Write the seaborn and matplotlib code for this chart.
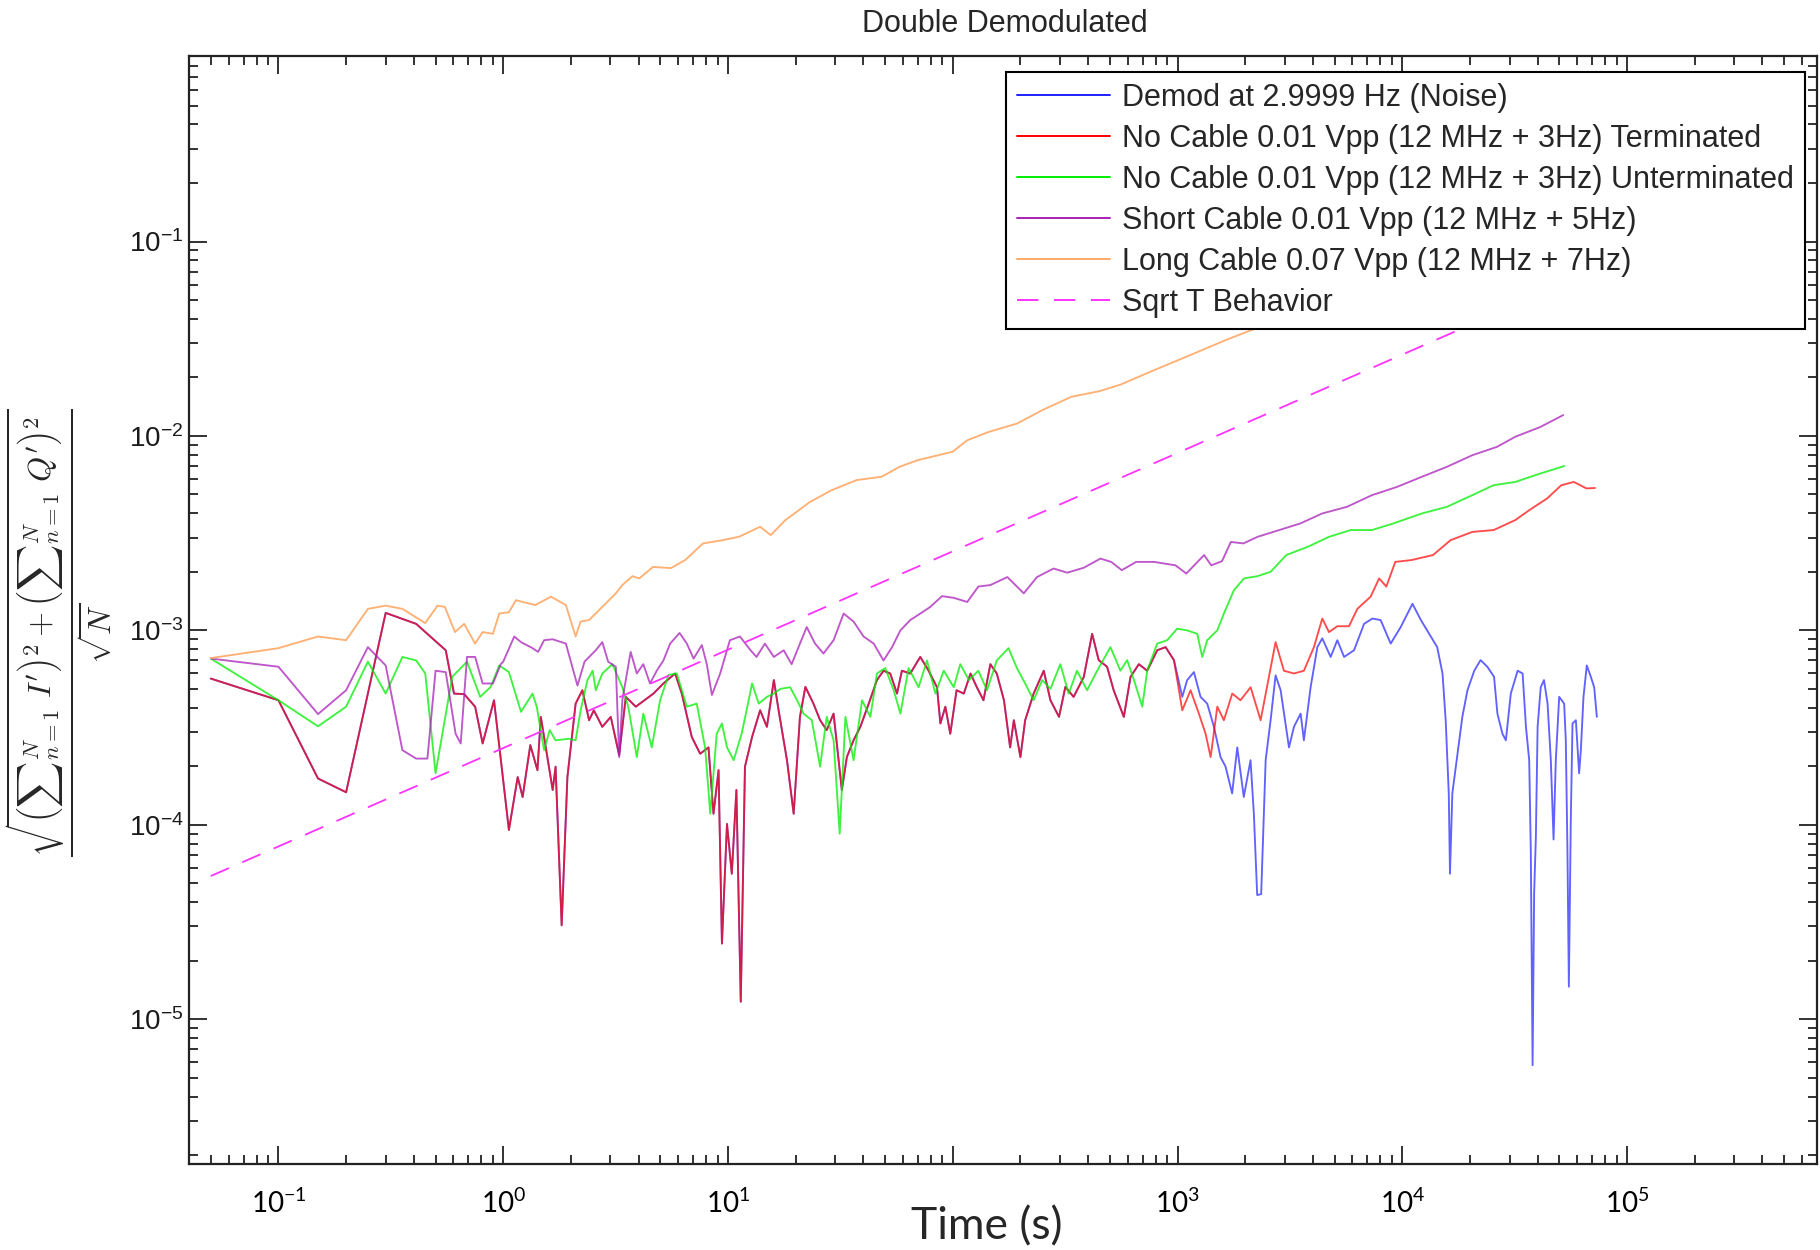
import numpy as np
import pandas as pd
import matplotlib
matplotlib.use("Agg")
import matplotlib.pyplot as plt
import seaborn as sns
from matplotlib.ticker import LogLocator, NullFormatter, FixedLocator, FixedFormatter

# ---------------- data ----------------
# Noise and "Terminated" traces coincide up to ~1e3 s
shared_t = [0.05, 0.10, 0.15, 0.20, 0.30, 0.41, 0.555, 0.604, 0.67, 0.75, 0.81, 0.91,
            1.06, 1.16, 1.22, 1.32, 1.42, 1.47, 1.66, 1.71, 1.82, 1.93, 2.10, 2.25, 2.41,
            2.53, 2.76, 3.01, 3.28, 3.51, 3.89, 4.66, 5.16, 5.82, 6.23, 6.9, 7.52, 8.19,
            8.62, 9.08, 9.4, 9.9, 10.4, 10.9, 11.4, 11.9, 12.8, 13.9, 14.9, 16.0, 16.8,
            18.3, 19.6, 20.9, 22.1, 24.0, 25.7, 27.5, 29.5, 32.1, 33.8, 36.2, 38.8, 42.3,
            46.0, 49.2, 52.7, 56.5, 59.4, 64.7, 71.7, 78.1, 85.1, 88.1, 92.7, 97.5, 104,
            112, 120, 128, 137, 147, 157, 169, 180, 187, 200, 210, 229, 254, 272, 297,
            317, 345, 383, 417, 446, 486, 520, 577, 618, 673, 733, 812, 885, 964]
shared_v = [5.65e-4, 4.37e-4, 1.73e-4, 1.47e-4, 1.23e-3, 1.08e-3, 7.9e-4, 4.73e-4, 4.7e-4,
            4.05e-4, 2.62e-4, 4.37e-4, 9.4e-5, 1.76e-4, 1.39e-4, 2.57e-4, 1.91e-4, 3.59e-4,
            1.51e-4, 1.99e-4, 3.04e-5, 1.76e-4, 4.2e-4, 4.92e-4, 3.45e-4, 3.88e-4, 3.19e-4,
            3.59e-4, 2.28e-4, 4.55e-4, 4.05e-4, 4.73e-4, 5.33e-4, 6.0e-4, 4.73e-4, 2.83e-4,
            2.32e-4, 2.5e-4, 1.14e-4, 1.91e-4, 2.45e-5, 1.01e-4, 5.6e-5, 1.51e-4, 1.23e-5,
            1.99e-4, 2.83e-4, 3.88e-4, 3.19e-4, 5.55e-4, 3.88e-4, 2.15e-4, 1.14e-4, 3.59e-4,
            5.12e-4, 4.2e-4, 3.45e-4, 3.07e-4, 3.73e-4, 1.51e-4, 2.23e-4, 2.72e-4, 3.19e-4,
            4.2e-4, 5.55e-4, 6.2e-4, 6.0e-4, 4.73e-4, 6.2e-4, 6.0e-4, 7.3e-4, 6.2e-4, 5.1e-4,
            3.32e-4, 4.05e-4, 2.94e-4, 4.92e-4, 4.73e-4, 6.0e-4, 5.1e-4, 4.37e-4, 6.7e-4,
            6.0e-4, 4.37e-4, 2.5e-4, 3.45e-4, 2.23e-4, 3.45e-4, 4.73e-4, 6.2e-4, 4.37e-4,
            3.59e-4, 5.12e-4, 4.55e-4, 5.77e-4, 9.6e-4, 7.03e-4, 6.5e-4, 4.92e-4, 3.59e-4,
            5.77e-4, 6.7e-4, 6.2e-4, 7.9e-4, 8.2e-4, 7.03e-4]

noise_late_t = [1050, 1104, 1183, 1266, 1356, 1452, 1554, 1636, 1750, 1844, 1972, 2113,
                2186, 2262, 2356, 2421, 2467, 2595, 2731, 2876, 3133, 3296, 3530, 3650,
                3910, 4190, 4406, 4800, 5140, 5510, 6100, 6760, 7360, 8010, 8880, 9840,
                1.11e4, 1.21e4, 1.29e4, 1.43e4, 1.51e4, 1.56e4, 1.61e4, 1.63e4, 1.67e4,
                1.76e4, 1.85e4, 1.95e4, 2.09e4, 2.23e4, 2.39e4, 2.56e4, 2.65e4, 2.79e4,
                2.89e4, 3.04e4, 3.26e4, 3.43e4, 3.55e4, 3.67e4, 3.73e4, 3.80e4, 3.86e4,
                3.93e4, 4.00e4, 4.13e4, 4.27e4, 4.43e4, 4.58e4, 4.71e4, 4.82e4, 4.99e4,
                5.25e4, 5.34e4, 5.43e4, 5.51e4, 5.62e4, 5.72e4, 5.92e4, 6.12e4, 6.23e4,
                6.40e4, 6.62e4, 6.90e4, 7.14e4, 7.34e4]
noise_late_v = [4.55e-4, 5.55e-4, 6.1e-4, 4.55e-4, 4.2e-4, 3.19e-4, 2.23e-4, 1.99e-4,
                1.45e-4, 2.5e-4, 1.39e-4, 2.15e-4, 1.14e-4, 4.35e-5, 4.4e-5, 1.1e-4,
                2.15e-4, 3.45e-4, 5.87e-4, 4.92e-4, 2.5e-4, 3.19e-4, 3.73e-4, 2.72e-4,
                5.1e-4, 8.2e-4, 9.1e-4, 7.3e-4, 8.9e-4, 7.3e-4, 7.9e-4, 1.08e-3, 1.15e-3,
                1.13e-3, 8.55e-4, 1.04e-3, 1.37e-3, 1.13e-3, 1.0e-3, 8.2e-4, 6.0e-4,
                3.45e-4, 1.45e-4, 5.6e-5, 1.45e-4, 2.32e-4, 3.59e-4, 4.92e-4, 6.2e-4,
                7.03e-4, 6.5e-4, 5.77e-4, 3.73e-4, 2.94e-4, 2.72e-4, 4.73e-4, 6.2e-4,
                6.0e-4, 3.19e-4, 2.15e-4, 7.4e-5, 5.8e-6, 4.43e-5, 8.7e-5, 3.19e-4, 5.1e-4,
                5.55e-4, 4.2e-4, 2.15e-4, 8.4e-5, 2.15e-4, 4.55e-4, 4.2e-4, 2.72e-4, 7.4e-5,
                1.47e-5, 1.06e-4, 3.32e-4, 3.45e-4, 1.84e-4, 2.42e-4, 4.55e-4, 6.6e-4,
                5.77e-4, 5.1e-4, 3.59e-4]

term_late_t = [1050, 1143, 1245, 1333, 1404, 1503, 1608, 1752, 1906, 2115, 2343, 2553,
               2731, 2974, 3296, 3650, 4045, 4406, 4720, 5140, 5790, 6310, 7230, 7888,
               8492, 9310, 1.10e4, 1.37e4, 1.64e4, 2.05e4, 2.55e4, 3.18e4, 3.67e4, 4.41e4,
               5.10e4, 5.80e4, 6.60e4, 7.20e4]
term_late_v = [3.88e-4, 4.92e-4, 3.73e-4, 2.94e-4, 2.23e-4, 4.05e-4, 3.45e-4, 4.73e-4,
               4.37e-4, 5.1e-4, 3.45e-4, 5.77e-4, 8.7e-4, 6.2e-4, 6.0e-4, 6.2e-4, 8.2e-4,
               1.15e-3, 9.8e-4, 1.05e-3, 1.05e-3, 1.29e-3, 1.49e-3, 1.85e-3, 1.68e-3,
               2.25e-3, 2.3e-3, 2.44e-3, 2.91e-3, 3.21e-3, 3.28e-3, 3.69e-3, 4.15e-3,
               4.77e-3, 5.58e-3, 5.8e-3, 5.37e-3, 5.4e-3]

unterm_t = [0.05, 0.10, 0.15, 0.20, 0.25, 0.30, 0.356, 0.41, 0.45, 0.50, 0.593, 0.69, 0.79,
            0.88, 0.96, 1.06, 1.20, 1.35, 1.41, 1.52, 1.61, 1.71, 1.96, 2.10, 2.21, 2.37,
            2.50, 2.58, 2.76, 3.06, 3.39, 3.6, 3.93, 4.2, 4.58, 4.99, 5.44, 5.92, 6.56,
            7.26, 7.91, 8.34, 8.91, 9.4, 9.9, 10.6, 11.5, 12.1, 12.8, 13.7, 14.9, 16.0,
            17.1, 18.9, 20.3, 21.7, 23.6, 25.7, 27.5, 29.5, 31.4, 33.3, 36.2, 39.5, 43.0,
            46.0, 50.1, 54.6, 58.5, 63.6, 70.5, 76.8, 83.7, 91.2, 101, 108, 118, 130, 142,
            157, 177, 193, 210, 229, 250, 272, 301, 328, 357, 396, 439, 503, 557, 597,
            640, 697, 733, 812, 900, 996, 1104, 1224, 1288, 1356, 1503, 1608, 1782, 1977,
            2265, 2595, 3048, 3796, 4730, 5888, 7331, 9140, 1.22e4, 1.58e4, 2.05e4,
            2.55e4, 3.18e4, 4.10e4, 5.26e4]
unterm_v = [7.16e-4, 4.37e-4, 3.21e-4, 4.05e-4, 6.9e-4, 4.73e-4, 7.3e-4, 7.0e-4, 6.0e-4,
            1.84e-4, 5.77e-4, 6.9e-4, 4.55e-4, 5.12e-4, 6.6e-4, 6.1e-4, 3.81e-4, 4.73e-4,
            4.05e-4, 2.42e-4, 3.07e-4, 2.72e-4, 2.77e-4, 2.72e-4, 3.88e-4, 5.55e-4, 6.2e-4,
            4.92e-4, 6.0e-4, 6.7e-4, 5.1e-4, 4.05e-4, 2.23e-4, 3.73e-4, 2.5e-4, 4.37e-4,
            5.9e-4, 6.0e-4, 4.05e-4, 4.2e-4, 2.5e-4, 1.14e-4, 2.94e-4, 3.32e-4, 2.5e-4,
            2.15e-4, 2.94e-4, 3.88e-4, 5.33e-4, 4.2e-4, 4.55e-4, 4.73e-4, 5.0e-4, 5.1e-4,
            4.37e-4, 3.73e-4, 3.45e-4, 1.99e-4, 3.59e-4, 2.72e-4, 9.0e-5, 3.59e-4, 2.15e-4,
            4.37e-4, 3.59e-4, 6.0e-4, 6.4e-4, 4.92e-4, 3.73e-4, 6.4e-4, 5.1e-4, 7.0e-4,
            4.73e-4, 6.2e-4, 5.1e-4, 6.7e-4, 5.55e-4, 6.2e-4, 4.92e-4, 7.0e-4, 8.1e-4,
            6.4e-4, 5.33e-4, 4.37e-4, 5.55e-4, 5.0e-4, 6.7e-4, 4.73e-4, 6.2e-4, 4.92e-4,
            6.2e-4, 8.2e-4, 6.2e-4, 7.03e-4, 5.55e-4, 4.05e-4, 6.2e-4, 8.55e-4, 8.9e-4,
            1.02e-3, 1.0e-3, 9.6e-4, 7.3e-4, 8.9e-4, 1.0e-3, 1.22e-3, 1.61e-3, 1.85e-3,
            1.9e-3, 2.0e-3, 2.44e-3, 2.69e-3, 3.03e-3, 3.28e-3, 3.28e-3, 3.55e-3, 3.99e-3,
            4.32e-3, 4.96e-3, 5.58e-3, 5.8e-3, 6.4e-3, 7.0e-3]

short_t = [0.05, 0.10, 0.15, 0.20, 0.25, 0.30, 0.356, 0.41, 0.46, 0.50, 0.555, 0.614, 0.647,
           0.69, 0.75, 0.81, 0.90, 0.975, 1.0, 1.12, 1.20, 1.35, 1.43, 1.52, 1.66, 1.90,
           2.14, 2.30, 2.58, 2.76, 2.93, 3.17, 3.28, 3.39, 3.69, 3.93, 4.2, 4.5, 4.82, 5.16,
           5.53, 6.09, 6.56, 7.03, 7.65, 8.05, 8.48, 9.23, 10.2, 11.3, 12.6, 13.4, 14.6,
           16.0, 17.7, 19.2, 20.9, 22.4, 24.4, 26.6, 29.5, 32.7, 36.2, 40.1, 44.5, 49.2,
           53.7, 58.5, 64.7, 71.7, 79.4, 89.6, 101, 116, 130, 147, 175, 207, 237, 281, 323,
           383, 454, 507, 565, 655, 787, 980, 1094, 1313, 1413, 1578, 1727, 1963, 2275,
           2833, 3526, 4395, 5677, 7331, 9480, 1.22e4, 1.58e4, 2.05e4, 2.64e4, 3.18e4,
           4.10e4, 5.20e4]
short_v = [7.16e-4, 6.5e-4, 3.71e-4, 4.92e-4, 8.2e-4, 6.6e-4, 2.42e-4, 2.19e-4, 2.19e-4,
           6.2e-4, 6.1e-4, 2.94e-4, 2.62e-4, 7.3e-4, 7.3e-4, 5.33e-4, 5.33e-4, 6.7e-4, 6.9e-4,
           9.3e-4, 8.7e-4, 8.1e-4, 7.75e-4, 8.9e-4, 9.0e-4, 8.55e-4, 5.2e-4, 6.9e-4, 7.9e-4,
           8.7e-4, 6.9e-4, 6.5e-4, 2.23e-4, 4.4e-4, 7.75e-4, 6.0e-4, 6.7e-4, 5.33e-4, 6.2e-4,
           7.0e-4, 8.55e-4, 9.7e-4, 8.55e-4, 7.16e-4, 8.4e-4, 6.7e-4, 4.65e-4, 6.0e-4,
           8.9e-4, 9.3e-4, 7.9e-4, 7.3e-4, 8.55e-4, 7.3e-4, 7.9e-4, 6.7e-4, 8.55e-4, 1.04e-3,
           8.55e-4, 7.6e-4, 8.9e-4, 1.22e-3, 1.11e-3, 9.3e-4, 8.55e-4, 7.0e-4, 8.2e-4,
           1.0e-3, 1.13e-3, 1.22e-3, 1.32e-3, 1.5e-3, 1.47e-3, 1.40e-3, 1.68e-3, 1.71e-3,
           1.88e-3, 1.55e-3, 1.88e-3, 2.08e-3, 1.98e-3, 2.1e-3, 2.34e-3, 2.25e-3, 2.04e-3,
           2.25e-3, 2.25e-3, 2.16e-3, 1.96e-3, 2.44e-3, 2.16e-3, 2.27e-3, 2.85e-3, 2.8e-3,
           3.03e-3, 3.28e-3, 3.55e-3, 3.99e-3, 4.32e-3, 4.96e-3, 5.47e-3, 6.16e-3, 6.94e-3,
           7.96e-3, 8.79e-3, 9.9e-3, 1.11e-2, 1.28e-2]

long_t = [0.05, 0.10, 0.15, 0.20, 0.25, 0.30, 0.356, 0.45, 0.51, 0.55, 0.61, 0.67, 0.75,
          0.81, 0.90, 0.96, 1.06, 1.14, 1.22, 1.39, 1.63, 1.90, 2.10, 2.21, 2.41, 2.76,
          3.17, 3.39, 3.76, 4.03, 4.64, 5.57, 6.45, 7.74, 9.31, 11.2, 13.9, 15.5, 18.0,
          23.2, 28.9, 37.4, 48.3, 58.0, 69.7, 100, 116, 145, 194, 251, 337, 450, 560, 787,
          1135, 1635, 2360, 5000, 1.0e4, 2.0e4, 5.0e4]
long_v = [7.2e-4, 8.1e-4, 9.3e-4, 8.9e-4, 1.29e-3, 1.34e-3, 1.29e-3, 1.09e-3, 1.34e-3,
          1.32e-3, 9.8e-4, 1.08e-3, 8.55e-4, 9.8e-4, 9.6e-4, 1.22e-3, 1.24e-3, 1.43e-3,
          1.40e-3, 1.35e-3, 1.49e-3, 1.35e-3, 9.3e-4, 1.11e-3, 1.13e-3, 1.32e-3, 1.55e-3,
          1.71e-3, 1.9e-3, 1.85e-3, 2.12e-3, 2.09e-3, 2.30e-3, 2.80e-3, 2.9e-3, 3.03e-3,
          3.41e-3, 3.09e-3, 3.69e-3, 4.58e-3, 5.26e-3, 5.93e-3, 6.17e-3, 6.94e-3, 7.5e-3,
          8.3e-3, 9.5e-3, 1.05e-2, 1.16e-2, 1.36e-2, 1.59e-2, 1.70e-2, 1.84e-2, 2.18e-2,
          2.6e-2, 3.11e-2, 3.67e-2, 5.0e-2, 6.9e-2, 9.5e-2, 0.14]

sqrt_t = [0.05, 1.0e5]
sqrt_v = [5.45e-5, 8.4e-2]

labels = ["Demod at 2.9999 Hz (Noise)",
          "No Cable 0.01 Vpp (12 MHz + 3Hz) Terminated",
          "No Cable 0.01 Vpp (12 MHz + 3Hz) Unterminated",
          "Short Cable 0.01 Vpp (12 MHz + 5Hz)",
          "Long Cable 0.07 Vpp (12 MHz + 7Hz)",
          "Sqrt T Behavior"]
colors = ["#1f1fff", "#ff0000", "#00ee00", "#a81fb8", "#ffa866", "#ff33ff"]

xtick_vals = [1e-1, 1e0, 1e1, 1e2, 1e3, 1e4, 1e5]
xtick_labels = [r"$\mathregular{10^{-1}}$", r"$\mathregular{10^{0}}$", r"$\mathregular{10^{1}}$", "",
                r"$\mathregular{10^{3}}$", r"$\mathregular{10^{4}}$", r"$\mathregular{10^{5}}$"]
ytick_vals = [1e-5, 1e-4, 1e-3, 1e-2, 1e-1]
ytick_labels = [r"$\mathregular{10^{-5}}$", r"$\mathregular{10^{-4}}$", r"$\mathregular{10^{-3}}$",
                r"$\mathregular{10^{-2}}$", r"$\mathregular{10^{-1}}$"]

# ---------------- figure ----------------
sns.set_style("white")
plt.rcParams["font.family"] = ["Liberation Sans", "DejaVu Sans"]
plt.rcParams["mathtext.fontset"] = "cm"

fig = plt.figure(figsize=(18.2, 12.5), dpi=100, facecolor="white")
ax = fig.add_axes([189 / 1820, 1 - 1164 / 1250, (1817 - 189) / 1820, (1164 - 56) / 1250])
ax.set_xscale("log")
ax.set_yscale("log")

series = [
    (shared_t + noise_late_t, shared_v + noise_late_v, 0.7),
    (shared_t + term_late_t, shared_v + term_late_v, 0.7),
    (unterm_t, unterm_v, 0.75),
    (short_t, short_v, 0.75),
    (long_t, long_v, 0.9),
]
for (t, v, a), lab, c in zip(series, labels[:5], colors[:5]):
    df = pd.DataFrame({"t": t, "v": v})
    sns.lineplot(data=df, x="t", y="v", ax=ax, color=c, lw=1.35, alpha=a,
                 label=lab, estimator=None, sort=False)
df_s = pd.DataFrame({"t": sqrt_t, "v": sqrt_v})
sns.lineplot(data=df_s, x="t", y="v", ax=ax, color=colors[5], lw=1.3,
             linestyle=(0, (11, 8)), label=labels[5], estimator=None, sort=False)

ax.set_xlim(0.04, 7.0e5)
ax.set_ylim(1.8e-6, 0.9)

ax.xaxis.set_major_locator(FixedLocator(xtick_vals))
ax.xaxis.set_major_formatter(FixedFormatter(xtick_labels))
ax.yaxis.set_major_locator(FixedLocator(ytick_vals))
ax.yaxis.set_major_formatter(FixedFormatter(ytick_labels))
ax.xaxis.set_minor_locator(LogLocator(base=10, subs=np.arange(2, 10), numticks=100))
ax.yaxis.set_minor_locator(LogLocator(base=10, subs=np.arange(2, 10), numticks=100))
ax.xaxis.set_minor_formatter(NullFormatter())
ax.yaxis.set_minor_formatter(NullFormatter())

ax.tick_params(which="both", direction="in", top=True, right=True, bottom=True, left=True,
               color="#222222")
ax.tick_params(which="major", length=13, width=1.3)
ax.tick_params(which="minor", length=6.5, width=1.3)
ax.tick_params(axis="x", which="major", pad=18, labelsize=20, labelfontfamily="Lato",
               labelcolor="black")
ax.tick_params(axis="y", which="major", pad=4, labelsize=20, labelcolor="#1a1a1a")

for s in ax.spines.values():
    s.set_color("#222222")
    s.set_linewidth(1.6)

ax.set_xlabel("")
ax.set_ylabel("")

leg = ax.legend(loc="upper right", bbox_to_anchor=(0.9926, 0.9856), borderaxespad=0,
                prop={"family": "Liberation Sans", "size": 22}, frameon=True,
                fancybox=False, framealpha=1, edgecolor="black", handlelength=3.05,
                handletextpad=0.38, borderpad=0.36, labelspacing=0.36)
leg.get_frame().set_linewidth(1.5)
for h in leg.get_lines():
    h.set_alpha(1)
    h.set_linewidth(1.4)

fig.text(1005 / 1820, 1 - 24 / 1250, "Double Demodulated", ha="center", va="center",
         fontsize=22, family="Liberation Sans")
fig.text(987 / 1820, 1 - 1227 / 1250, "Time (s)", ha="center", va="center",
         fontsize=32, family="Lato")
fig.text(60 / 1820, 1 - 633 / 1250,
         r"$\frac{\sqrt{\left({\sum}_{n=1}^{N}\ I'\right)^{2}+\left({\sum}_{n=1}^{N}\ Q'\right)^{2}}}{\sqrt{N}}$",
         rotation=90, ha="center", va="center", fontsize=33)

fig.savefig("out.png", dpi=100, facecolor="white")
